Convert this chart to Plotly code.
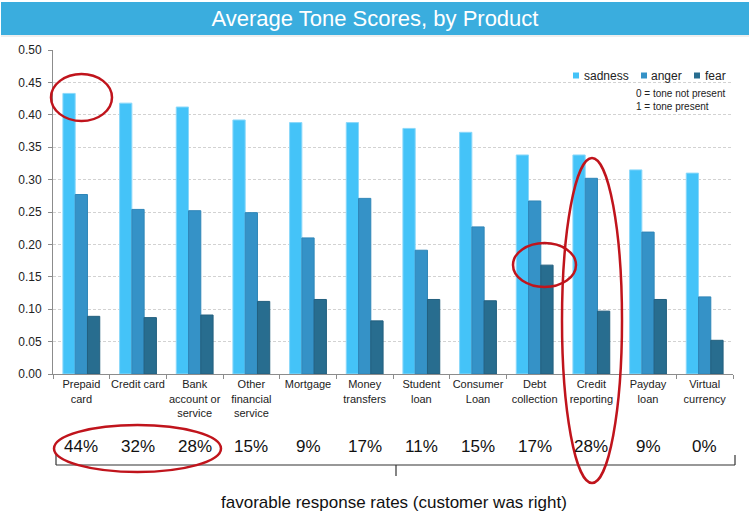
import plotly.graph_objects as go

# ---------------- data ----------------
categories = ["Prepaid<br>card", "Credit card", "Bank<br>account or<br>service",
              "Other<br>financial<br>service", "Mortgage", "Money<br>transfers",
              "Student<br>loan", "Consumer<br>Loan", "Debt<br>collection",
              "Credit<br>reporting", "Payday<br>loan", "Virtual<br>currency"]
sadness = [0.433, 0.418, 0.412, 0.392, 0.388, 0.388, 0.379, 0.373, 0.338, 0.338, 0.315, 0.310]
anger = [0.277, 0.254, 0.252, 0.249, 0.210, 0.271, 0.191, 0.227, 0.267, 0.302, 0.219, 0.119]
fear = [0.089, 0.087, 0.091, 0.112, 0.115, 0.082, 0.115, 0.113, 0.168, 0.097, 0.115, 0.052]
favorable = ["44%", "32%", "28%", "15%", "9%", "17%", "11%", "15%", "17%", "28%", "9%", "0%"]
series_names = ["sadness", "anger", "fear"]
series_colors = ["#44C3F8", "#3592C7", "#286D8F"]
series_edges = ["#8AD8FA", "#2F86B8", "#225F7E"]

# ---------------- geometry ----------------
W, H = 750, 532
L, R, T, B = 53, 17, 50, 158
PW, PH = W - L - R, H - T - B
FONT = "Liberation Sans, Arial, Helvetica, sans-serif"


def px2x(px):
    return (px - L) / PW


def px2y(py):
    return (H - B - py) / PH


fig = go.Figure()
for name, vals, col, edge in zip(series_names, [sadness, anger, fear], series_colors, series_edges):
    fig.add_trace(go.Bar(x=categories, y=vals, name=name, marker=dict(color=col, line=dict(color=edge, width=1)),
                         showlegend=False))

shapes = []
annotations = []

# title bar
shapes.append(dict(type="rect", xref="paper", yref="paper", x0=px2x(1), x1=px2x(749), y0=px2y(35), y1=px2y(2),
                   fillcolor="#3AADDE", line=dict(width=0), layer="below"))
shapes.append(dict(type="line", xref="paper", yref="paper", x0=px2x(1), x1=px2x(749), y0=px2y(36), y1=px2y(36),
                   line=dict(color="#DDDDDD", width=1)))

# manual legend
leg_sq = [573, 641, 694]
leg_tx = [582, 649, 703]
for name, col, sx, tx in zip(series_names, series_colors, leg_sq, leg_tx):
    shapes.append(dict(type="rect", xref="paper", yref="paper", x0=px2x(sx), x1=px2x(sx + 6),
                       y0=px2y(78.5), y1=px2y(72.5), fillcolor=col, line=dict(width=0)))
    annotations.append(dict(text=name, xref="paper", yref="paper", x=px2x(tx), y=px2y(75.5),
                            xanchor="left", yanchor="middle", showarrow=False,
                            font=dict(size=12, color="#222222", family=FONT)))
annotations.append(dict(text="0 = tone not present", xref="paper", yref="paper", x=px2x(634), y=px2y(93.5),
                        xanchor="left", yanchor="middle", showarrow=False,
                        font=dict(size=10, color="#222222", family=FONT)))
annotations.append(dict(text="1 = tone present", xref="paper", yref="paper", x=px2x(634), y=px2y(106),
                        xanchor="left", yanchor="middle", showarrow=False,
                        font=dict(size=10, color="#222222", family=FONT)))

# favorable response rates
for cat, pct in zip(categories, favorable):
    annotations.append(dict(text=pct, xref="x", yref="paper", x=cat, y=px2y(447),
                            xanchor="center", yanchor="middle", showarrow=False,
                            font=dict(size=17, color="#111111", family=FONT)))

# brace
brace_col = "#333333"
shapes += [
    dict(type="line", xref="paper", yref="paper", x0=px2x(56), x1=px2x(735), y0=px2y(465), y1=px2y(465),
         line=dict(color=brace_col, width=1.2)),
    dict(type="line", xref="paper", yref="paper", x0=px2x(56), x1=px2x(56), y0=px2y(454), y1=px2y(465),
         line=dict(color=brace_col, width=1.2)),
    dict(type="line", xref="paper", yref="paper", x0=px2x(735), x1=px2x(735), y0=px2y(455), y1=px2y(465),
         line=dict(color=brace_col, width=1.2)),
    dict(type="line", xref="paper", yref="paper", x0=px2x(396), x1=px2x(396), y0=px2y(465), y1=px2y(476),
         line=dict(color=brace_col, width=1.2)),
]
annotations.append(dict(text="favorable response rates (customer was right)", xref="paper", yref="paper",
                        x=px2x(394), y=px2y(502), xanchor="center", yanchor="middle", showarrow=False,
                        font=dict(size=17, color="#111111", family=FONT)))

# red highlight ellipses
red = "#C0141C"
for (x0, x1, y0, y1) in [(51, 112, 74, 121), (513, 576, 243, 287), (562, 622, 158, 483), (54, 221, 425, 472)]:
    shapes.append(dict(type="circle", xref="paper", yref="paper", x0=px2x(x0), x1=px2x(x1),
                       y0=px2y(y1), y1=px2y(y0), line=dict(color=red, width=2.5), layer="above"))

fig.update_layout(
    width=W, height=H,
    margin=dict(l=L, r=R, t=T, b=B, pad=0),
    paper_bgcolor="white", plot_bgcolor="white",
    barmode="group", bargap=0.35, bargroupgap=0,
    title=dict(text="Average Tone Scores, by Product", x=0.5, xanchor="center",
               y=1 - 18.5 / H, yanchor="middle", yref="container",
               font=dict(size=22, color="white", family=FONT)),
    font=dict(family=FONT, color="#222222"),
    shapes=shapes, annotations=annotations,
    xaxis=dict(type="category", showline=True, linecolor="#8C8C8C", linewidth=1,
               ticks="outside", tickson="boundaries", ticklen=4, tickcolor="#8C8C8C",
               tickangle=0, tickfont=dict(size=11, color="#222222", family=FONT), showgrid=False),
    yaxis=dict(range=[0, 0.5], dtick=0.05, tickformat=".2f", showline=True, linecolor="#8C8C8C",
               linewidth=1, ticks="outside", ticklen=4, tickcolor="#8C8C8C",
               tickfont=dict(size=12, color="#222222", family=FONT), ticklabelstandoff=4,
               showgrid=True, gridcolor="#D2D2D2", gridwidth=1, griddash="3px,2px", zeroline=False),
)

fig.write_html("out.html")
